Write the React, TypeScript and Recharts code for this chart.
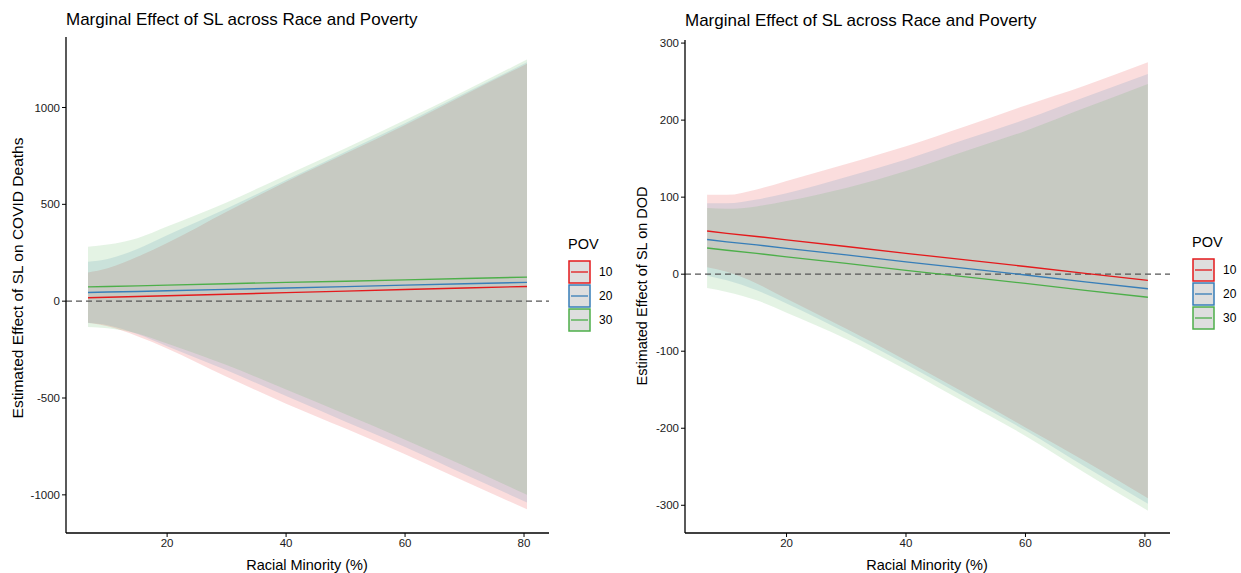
import React from 'react';
import { ComposedChart, Area, Line, XAxis, YAxis, ReferenceLine } from 'recharts';

// Racial minority (%) values where the estimates are read
const RACE = [6.7, 10, 15, 20, 30, 40, 50, 60, 70, 80.5];
const POV_LEVELS = ['10', '20', '30'];
const POV_COLORS = ['#E41A1C', '#377EB8', '#4DAF4A'];

// Left panel: effect on COVID deaths
const DEATHS_EST_10 = [18, 20, 24, 28, 36, 44, 52, 60, 68, 76];
const DEATHS_HI_10 = [148, 170, 229, 300, 462, 617, 762, 910, 1066, 1226];
const DEATHS_LO_10 = [-112, -130, -181, -244, -390, -529, -658, -790, -930, -1074];
const DEATHS_EST_20 = [45, 47, 50, 54, 61, 68, 75, 83, 90, 97];
const DEATHS_HI_20 = [203, 218, 270, 341, 479, 626, 772, 919, 1074, 1233];
const DEATHS_LO_20 = [-113, -124, -170, -233, -357, -490, -622, -753, -894, -1039];
const DEATHS_EST_30 = [74, 76, 79, 83, 90, 97, 103, 110, 117, 124];
const DEATHS_HI_30 = [281, 292, 325, 385, 510, 650, 790, 935, 1085, 1248];
const DEATHS_LO_30 = [-133, -140, -167, -219, -330, -456, -584, -715, -851, -1000];

// Right panel: effect on DOD
const DOD_EST_10 = [56, 53, 49, 44.5, 36, 27, 18.5, 10, 1, -8];
const DOD_HI_10 = [103, 103, 110, 121, 143, 166, 192, 219, 245, 275];
const DOD_LO_10 = [9, 3, -12, -32, -71, -112, -155, -199, -243, -291];
const DOD_EST_20 = [45, 42, 38, 33.5, 25, 16, 7.5, -1, -10, -19];
const DOD_HI_20 = [92, 92, 97, 105, 126, 149, 175, 201, 230, 260];
const DOD_LO_20 = [-2, -8, -21, -38, -76, -117, -160, -203, -250, -298];
const DOD_EST_30 = [34, 31, 27, 22.5, 14, 5, -3.5, -12, -21, -30];
const DOD_HI_30 = [86, 85, 88, 95, 112, 134, 160, 186, 216, 247];
const DOD_LO_30 = [-18, -23, -34, -50, -84, -124, -167, -210, -258, -307];

const X_TICKS = [20, 40, 60, 80];
const DEATHS_TICKS = [-1000, -500, 0, 500, 1000];
const DOD_TICKS = [-300, -200, -100, 0, 100, 200, 300];

const TITLE = 'Marginal Effect of SL across Race and Poverty';
const X_LABEL = 'Racial Minority (%)';
const DEATHS_Y_LABEL = 'Estimated Effect of SL on COVID Deaths';
const DOD_Y_LABEL = 'Estimated Effect of SL on DOD';

const FONT = '"Liberation Sans", Arial, Helvetica, sans-serif';

function buildRows(est: number[][], lo: number[][], hi: number[][]) {
  return RACE.map((x, i) => {
    const row: any = { x };
    POV_LEVELS.forEach((p, k) => {
      row['est' + p] = est[k][i];
      row['lo' + p] = lo[k][i];
      row['hi' + p] = hi[k][i];
    });
    return row;
  });
}

const deathsRows = buildRows(
  [DEATHS_EST_10, DEATHS_EST_20, DEATHS_EST_30],
  [DEATHS_LO_10, DEATHS_LO_20, DEATHS_LO_30],
  [DEATHS_HI_10, DEATHS_HI_20, DEATHS_HI_30]
);
const dodRows = buildRows(
  [DOD_EST_10, DOD_EST_20, DOD_EST_30],
  [DOD_LO_10, DOD_LO_20, DOD_LO_30],
  [DOD_HI_10, DOD_HI_20, DOD_HI_30]
);

const tickStyle = { fill: '#1a1a1a', stroke: 'none', fontSize: 11.5, fontFamily: FONT };

function Panel(props: {
  left: number;
  width: number;
  marginTop: number;
  marginRight: number;
  yAxisWidth: number;
  rows: any[];
  yDomain: [number, number];
  yTicks: number[];
}) {
  const { left, width, marginTop, marginRight, yAxisWidth, rows, yDomain, yTicks } = props;
  return (
    <div style={{ position: 'absolute', left, top: 0, width, height: 573 }}>
      <ComposedChart
        width={width}
        height={573}
        data={rows}
        margin={{ top: marginTop, right: marginRight, bottom: 0, left: 0 }}
      >
        <XAxis
          dataKey="x"
          type="number"
          domain={[3.0, 84.2]}
          ticks={X_TICKS}
          allowDataOverflow
          height={40}
          tickSize={4}
          tickMargin={2}
          tick={tickStyle}
          axisLine={{ stroke: '#000', strokeWidth: 1.3 }}
          tickLine={{ stroke: '#000', strokeWidth: 1 }}
        />
        <YAxis
          type="number"
          domain={yDomain}
          ticks={yTicks}
          allowDataOverflow
          width={yAxisWidth}
          tickSize={4}
          tickMargin={2}
          tick={tickStyle}
          axisLine={{ stroke: '#000', strokeWidth: 1.3 }}
          tickLine={{ stroke: '#000', strokeWidth: 1 }}
        />
        {POV_LEVELS.map((p, k) => (
          <Area
            key={'band' + p}
            type="monotone"
            dataKey={(d: any) => [d['lo' + p], d['hi' + p]]}
            stroke="none"
            fill={POV_COLORS[k]}
            fillOpacity={0.15}
            isAnimationActive={false}
            activeDot={false}
          />
        ))}
        <ReferenceLine y={0} stroke="#555" strokeWidth={1.2} strokeDasharray="6 4" />
        {POV_LEVELS.map((p, k) => (
          <Line
            key={'line' + p}
            type="linear"
            dataKey={'est' + p}
            stroke={POV_COLORS[k]}
            strokeWidth={1.4}
            dot={false}
            activeDot={false}
            isAnimationActive={false}
          />
        ))}
      </ComposedChart>
    </div>
  );
}

function LegendBlock(props: { left: number; top: number }) {
  const { left, top } = props;
  return (
    <div style={{ position: 'absolute', left, top, fontFamily: FONT }}>
      <div style={{ fontSize: 14.5, color: '#000', lineHeight: '16px', marginBottom: 8 }}>POV</div>
      {POV_LEVELS.map((p, k) => (
        <div key={p} style={{ display: 'flex', alignItems: 'center', height: 24 }}>
          <svg width={24} height={24} style={{ display: 'block' }}>
            <rect x={1} y={1} width={21} height={22} fill="#DEDEDE" stroke={POV_COLORS[k]} strokeWidth={1.5} />
            <line x1={3} x2={20} y1={12} y2={12} stroke={POV_COLORS[k]} strokeWidth={1.3} />
          </svg>
          <span style={{ fontSize: 12, marginLeft: 7, color: '#000' }}>{p}</span>
        </div>
      ))}
    </div>
  );
}

function Text(props: { x: number; y: number; size: number; rotate?: boolean; anchor?: 'start' | 'middle'; children: any }) {
  const { x, y, size, rotate, anchor, children } = props;
  const tx = anchor === 'start' ? '0' : '-50%';
  return (
    <div
      style={{
        position: 'absolute',
        left: x,
        top: y,
        fontSize: size,
        lineHeight: 1,
        whiteSpace: 'nowrap',
        color: '#000',
        fontFamily: FONT,
        transform: `translate(${tx}, -50%)${rotate ? ' rotate(-90deg)' : ''}`,
        transformOrigin: rotate ? 'center center' : undefined,
      }}
    >
      {children}
    </div>
  );
}

export default function App() {
  return (
    <div
      style={{
        position: 'absolute',
        left: 0,
        top: 0,
        width: 1241,
        height: 573,
        background: '#fff',
        overflow: 'hidden',
        fontFamily: FONT,
      }}
    >
      <Panel
        left={0}
        width={620}
        marginTop={37}
        marginRight={71}
        yAxisWidth={66}
        rows={deathsRows}
        yDomain={[-1197, 1364]}
        yTicks={DEATHS_TICKS}
      />
      <Panel
        left={620}
        width={621}
        marginTop={40}
        marginRight={71}
        yAxisWidth={65}
        rows={dodRows}
        yDomain={[-336, 304]}
        yTicks={DOD_TICKS}
      />
      <Text x={66} y={19} size={17} anchor="start">{TITLE}</Text>
      <Text x={685} y={20} size={17} anchor="start">{TITLE}</Text>
      <Text x={307} y={565} size={14.5}>{X_LABEL}</Text>
      <Text x={927} y={565} size={14.5}>{X_LABEL}</Text>
      <div style={{ position: 'absolute', left: 18, top: 278, width: 0, height: 0 }}>
        <Text x={0} y={0} size={15.5} rotate>{DEATHS_Y_LABEL}</Text>
      </div>
      <div style={{ position: 'absolute', left: 642, top: 286, width: 0, height: 0 }}>
        <Text x={0} y={0} size={14.5} rotate>{DOD_Y_LABEL}</Text>
      </div>
      <LegendBlock left={568} top={236} />
      <LegendBlock left={1192} top={234} />
    </div>
  );
}
